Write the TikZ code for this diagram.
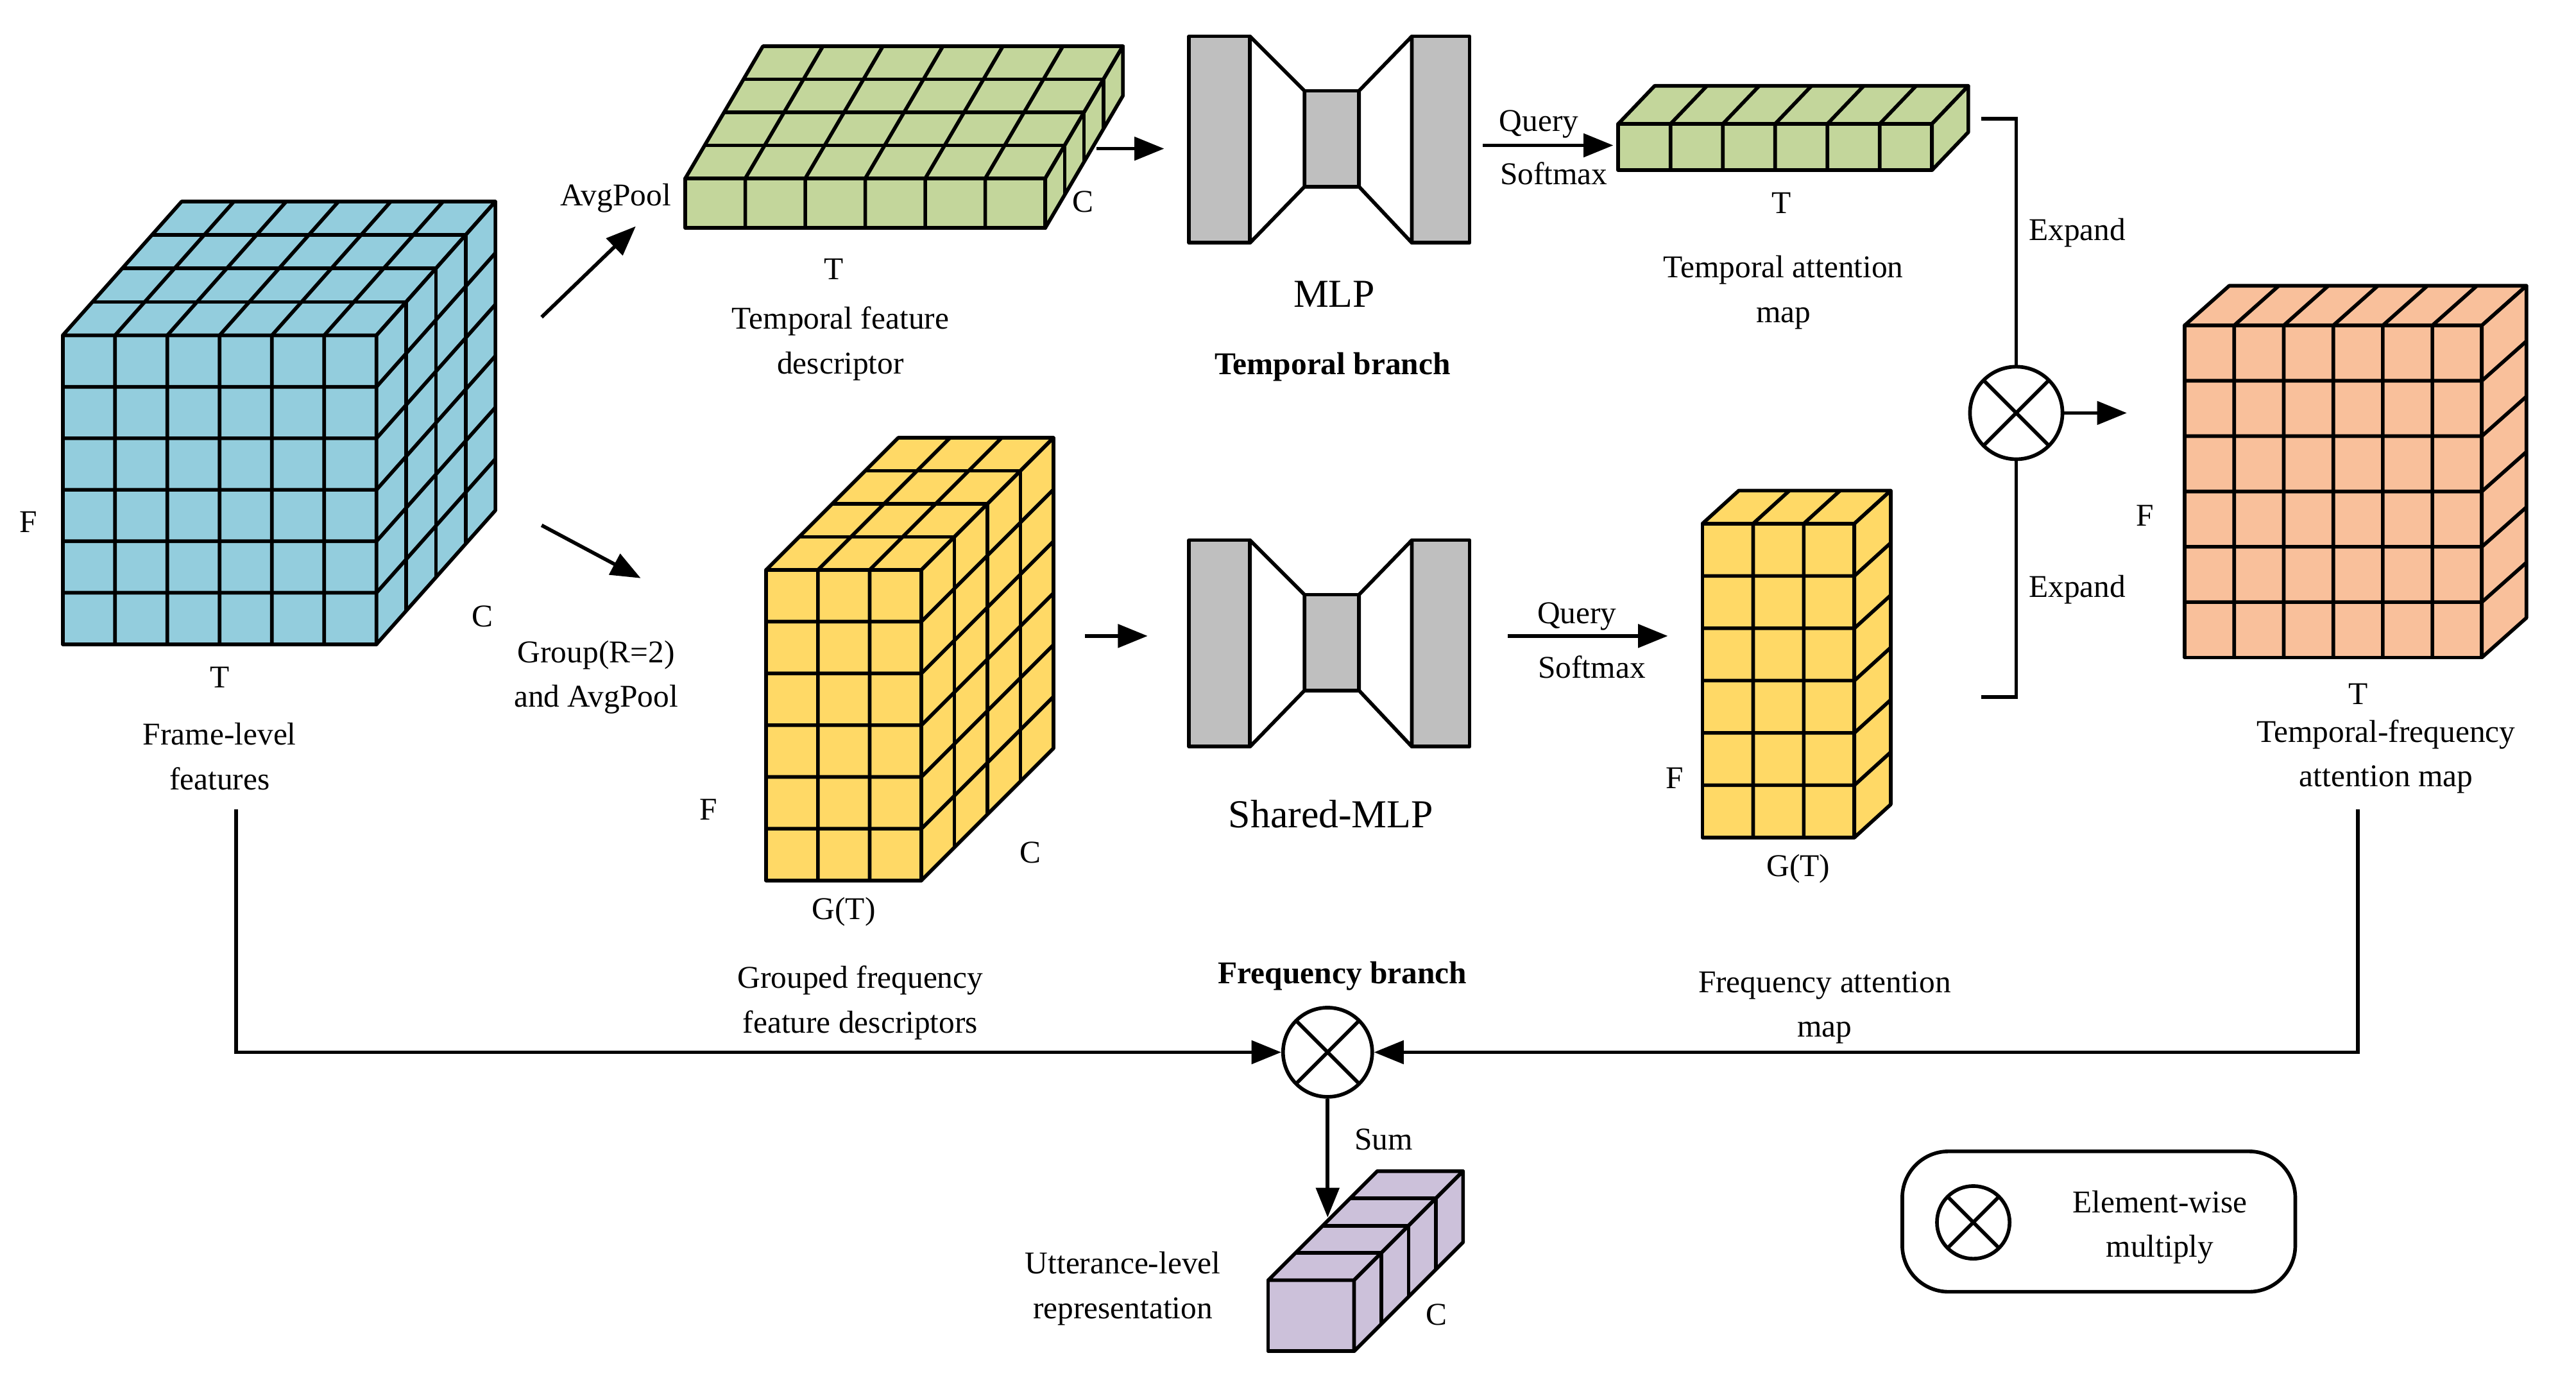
\documentclass[tikz,border=0pt]{standalone}
\usepackage{fontspec}
\setmainfont{Liberation Serif}
\usetikzlibrary{arrows.meta}
\definecolor{cblue}{HTML}{93CDDD}
\definecolor{cgreen}{HTML}{C3D69B}
\definecolor{cyel}{HTML}{FFD966}
\definecolor{corg}{HTML}{F9C09B}
\definecolor{clav}{HTML}{CCC1DA}
\definecolor{cgray}{HTML}{BFBFBF}
\newcommand\cc{cblue}
% x y w h dx dy nx ny nz
\newcommand\mycube[9]{%
 \begin{scope}[line width=1.1pt,line join=round]
 \filldraw[fill=\cc] (#1,#2) rectangle ({#1+#3},{#2+#4});
 \filldraw[fill=\cc] (#1,#2)--({#1+#5},{#2+#6})--({#1+#3+#5},{#2+#6})--({#1+#3},#2)--cycle;
 \filldraw[fill=\cc] ({#1+#3},#2)--({#1+#3+#5},{#2+#6})--({#1+#3+#5},{#2+#4+#6})--({#1+#3},{#2+#4})--cycle;
 \ifnum#7>1 \foreach \i in {1,...,\numexpr#7-1\relax}{\draw ({#1+\i*#3/#7},{#2+#4})--({#1+\i*#3/#7},#2)--++(#5,#6);}\fi
 \ifnum#8>1 \foreach \j in {1,...,\numexpr#8-1\relax}{\draw (#1,{#2+\j*#4/#8})--({#1+#3},{#2+\j*#4/#8})--++(#5,#6);}\fi
 \ifnum#9>1 \foreach \k in {1,...,\numexpr#9-1\relax}{\draw ({#1+\k*#5/#9},{#2+\k*#6/#9})--++(#3,0)--++(0,#4);}\fi
 \end{scope}}
\newcommand\mymlp[2]{%
 \begin{scope}[shift={(#1,#2)},line width=1.1pt,fill=cgray,line join=round]
 \filldraw (0,0) rectangle (37,125);
 \filldraw (135,0) rectangle (170,125);
 \filldraw (70,33) rectangle (103,91);
 \filldraw[fill=white] (37,0)--(70,33)--(70,91)--(37,125)--cycle;
 \filldraw[fill=white] (135,0)--(103,33)--(103,91)--(135,125)--cycle;
 \end{scope}}
\begin{document}
\begin{tikzpicture}[x=0.5pt,y=-0.5pt,
 lab/.style={font=\fontsize{9.6}{13.5}\selectfont,align=center,inner sep=0pt},
 arr/.style={line width=1.1pt,-{Triangle[length=9pt,width=7pt]}},
 ln/.style={line width=1.1pt},
 mult/.style={circle,draw,line width=1.1pt,minimum size=#1,inner sep=0pt,
   path picture={\draw[line width=1.1pt] (path picture bounding box.center) ++(45:20pt)--++(225:40pt) (path picture bounding box.center) ++(135:20pt)--++(-45:40pt);}}]
\useasboundingbox (0,0) rectangle (1560,834);
% cubes
\renewcommand\cc{cblue}\mycube{38}{203}{190}{187}{72}{-81}{6}{6}{4}
\renewcommand\cc{cgreen}\mycube{415}{108}{218}{30}{47}{-80}{6}{1}{4}
\renewcommand\cc{cyel}\mycube{464}{345}{94}{188}{80}{-80}{3}{6}{4}
\renewcommand\cc{cgreen}\mycube{980}{75}{190}{28}{22}{-23}{6}{1}{1}
\renewcommand\cc{cyel}\mycube{1031}{317}{92}{190}{22}{-20}{3}{6}{1}
\renewcommand\cc{corg}\mycube{1323}{197}{180}{201}{27}{-24}{6}{6}{1}
\renewcommand\cc{clav}\mycube{768}{775}{52}{43}{66}{-66}{1}{1}{4}
\mymlp{720}{22}
\mymlp{720}{327}
% multiply nodes
\node[mult=28pt] (m1) at (1221,250) {};
\node[mult=27pt] (m2) at (804,637) {};
\draw[ln,rounded corners=14] (1152,697) rectangle (1390,782);
\node[mult=22pt] (m3) at (1195,740) {};
% coordinates
\coordinate (a1s) at (328,192); \coordinate (a1e) at (385,137);
\coordinate (a2s) at (328,318); \coordinate (a2e) at (388,350);
\coordinate (a3s) at (664,90); \coordinate (a3e) at (705,90);
\coordinate (a4s) at (657,385); \coordinate (a4e) at (695,385);
\coordinate (a5s) at (898,88); \coordinate (a5e) at (977,88);
\coordinate (a6s) at (913,385); \coordinate (a6e) at (1010,385);
\coordinate (b1) at (1200,72); \coordinate (b2) at (1200,422);
\coordinate (m1o) at (1288,250);
\coordinate (ff) at (143,490); \coordinate (tf) at (1428,490);
\coordinate (ut) at (804,737);
\draw[arr] (a1s)--(a1e);
\draw[arr] (a2s)--(a2e);
\draw[arr] (a3s)--(a3e);
\draw[arr] (a4s)--(a4e);
\draw[arr] (a5s)--(a5e);
\draw[arr] (a6s)--(a6e);
\draw[ln] (b1)-|(m1.north);
\draw[ln] (b2)-|(m1.south);
\draw[arr] (m1.east)--(m1o);
\draw[arr] (ff)|-(m2.west);
\draw[arr] (tf)|-(m2.east);
\draw[arr] (m2.south)--(ut);
% labels
\node[lab] at (373,120) {AvgPool};
\node[lab] at (656,122) {C};
\node[lab] at (505,163) {T};
\node[lab] at (509,208) {Temporal feature\\descriptor};
\node[lab,font=\fontsize{12}{14}\selectfont] at (808,178) {MLP};
\node[lab,font=\fontsize{9.6}{13}\bfseries] at (807,222) {Temporal branch};
\node[lab] at (932,75) {Query};
\node[lab] at (941,105) {Softmax};
\node[lab] at (1079,123) {T};
\node[lab] at (1080,177) {Temporal attention\\map};
\node[lab] at (1258,141) {Expand};
\node[lab] at (1258,357) {Expand};
\node[lab] at (17,316) {F};
\node[lab] at (292,373) {C};
\node[lab] at (133,410) {T};
\node[lab] at (133,458) {Frame-level\\features};
\node[lab] at (361,410) {Group(R=2)\\and AvgPool};
\node[lab] at (429,490) {F};
\node[lab] at (624,516) {C};
\node[lab] at (511,552) {G(T)};
\node[lab] at (521,607) {Grouped frequency\\feature descriptors};
\node[lab,font=\fontsize{12}{14}\selectfont] at (806,493) {Shared-MLP};
\node[lab,font=\fontsize{9.6}{13}\bfseries] at (813,591) {Frequency branch};
\node[lab] at (955,373) {Query};
\node[lab] at (964,404) {Softmax};
\node[lab] at (1014,471) {F};
\node[lab] at (1089,526) {G(T)};
\node[lab] at (1105,610) {Frequency attention\\map};
\node[lab] at (1299,312) {F};
\node[lab] at (1428,420) {T};
\node[lab] at (1445,458) {Temporal-frequency\\attention map};
\node[lab] at (838,690) {Sum};
\node[lab] at (680,780) {Utterance-level\\representation};
\node[lab] at (870,796) {C};
\node[lab] at (1308,743) {Element-wise\\multiply};
\end{tikzpicture}
\end{document}
